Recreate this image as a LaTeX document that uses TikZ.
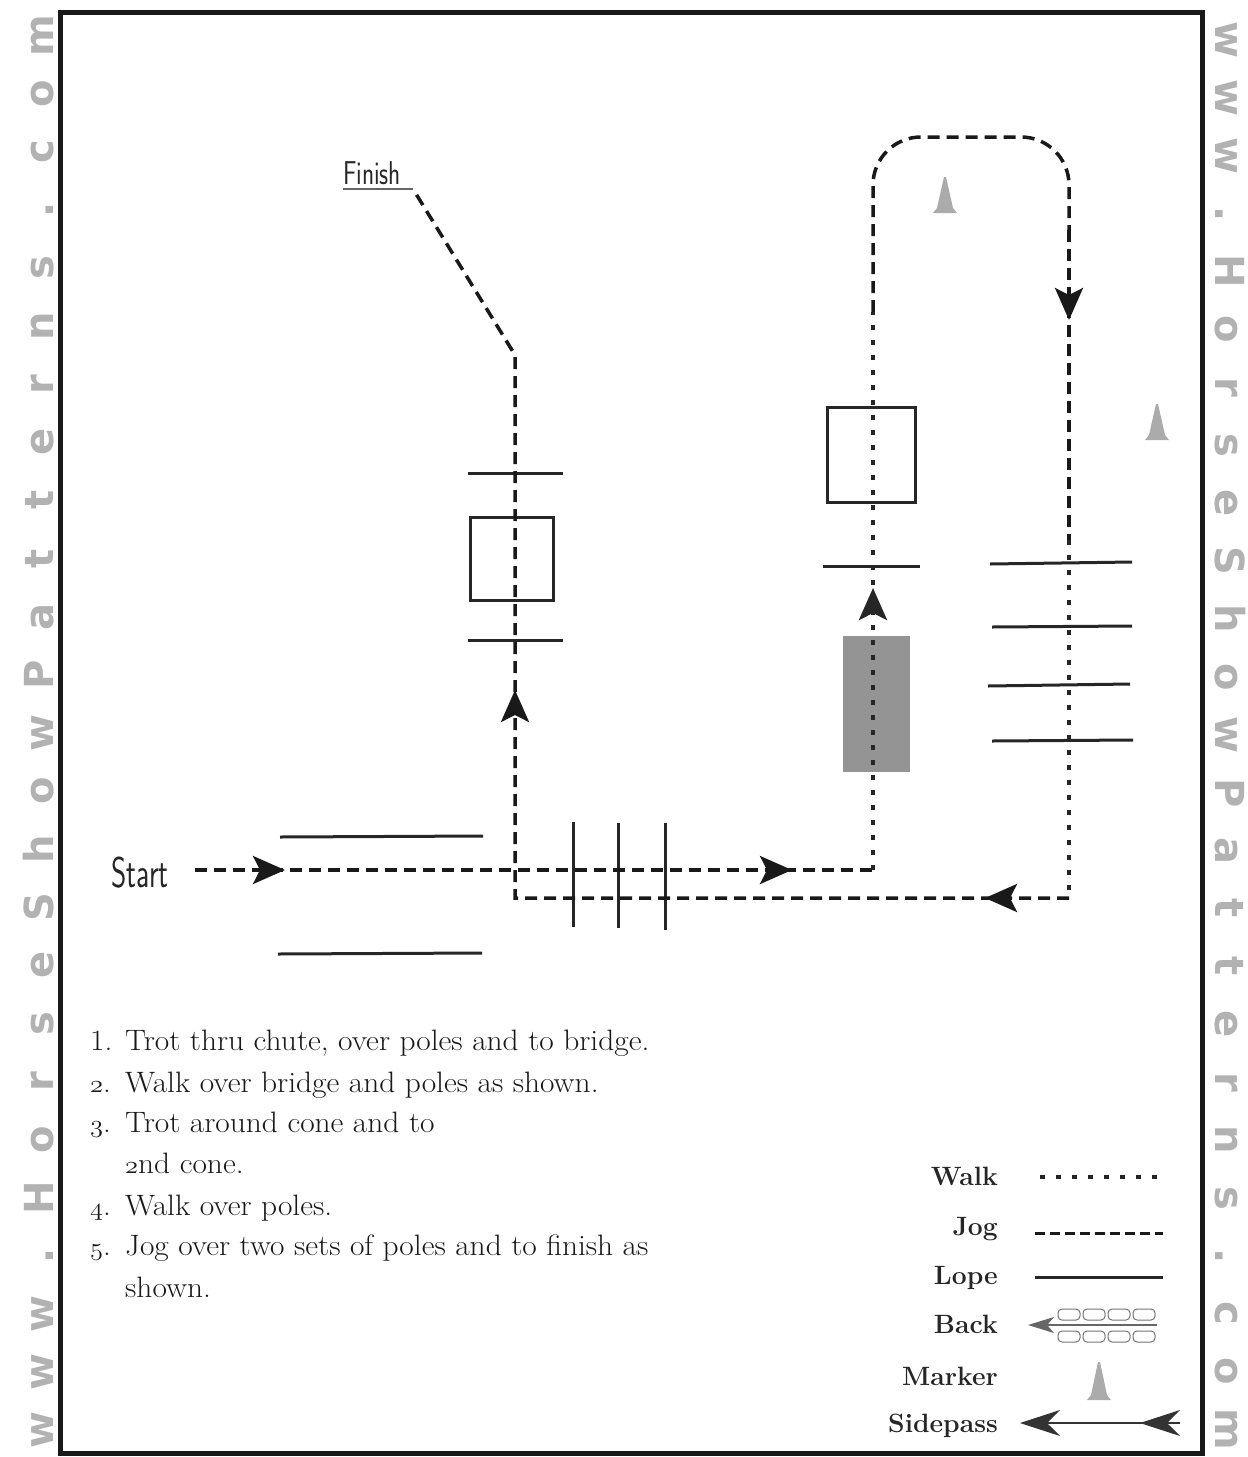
\documentclass[tikz,border=0pt]{standalone}
\usepackage{fontspec}
\newfontfamily\wmfont{DejaVu Sans}
\usetikzlibrary{arrows.meta,decorations.markings}
\newcommand{\osn}[1]{{\usefont{OML}{lmm}{m}{it}#1}}
\begin{document}
\begin{tikzpicture}[x=1pt,y=-1pt,
  jog/.style={line width=3.5pt,dash pattern=on 12pt off 7pt,black!90},
  walk/.style={line width=4.5pt,dash pattern=on 5pt off 10pt,black!85},
  pole/.style={line width=3pt,black!85},
  obox/.style={draw,line width=3pt,black!85},
  arr/.style={postaction={decorate,decoration={markings,mark=at position #1 with {\pgfsetdash{}{0pt}\arrow{Stealth[length=32pt,width=28pt,inset=7pt]}}}}},
  conefill/.style={fill=black!33},
  wm/.style={font=\wmfont\bfseries\fontsize{40}{40}\selectfont,text=black!30,inner sep=0pt},
  instr/.style={font=\fontsize{29.5}{34}\selectfont,text=black!90,inner sep=0pt,anchor=base west,xscale=1.065},
  leg/.style={font=\bfseries\fontsize{26.5}{30}\selectfont,text=black!85,inner sep=0pt,anchor=base east},
  cond/.style={font=\sffamily\fontsize{#1}{#1}\selectfont,text=black!85,inner sep=0pt}
]
\useasboundingbox (0,0) rectangle (1248,1457);
% frame
\draw[line width=5pt,black!90] (60,12) rectangle (1202,1453);
% watermarks
\foreach \ch [count=\i from 0] in {w,w,w,.,H,o,r,s,e,S,h,o,w,P,a,t,t,e,r,n,s,.,c,o,m}{
  \node[wm,rotate=90,anchor=base] (wl\i) at (53,1430-58.1*\i) {\ch};
  \node[wm,rotate=-90,anchor=base] (wr\i) at (1215,40+57.9*\i) {\ch};
}
% obstacles
\fill[black!42] (843,636) rectangle (910,772);
\draw[pole] (280,837) -- (483,836);
\draw[pole] (278,954) -- (482,953);
\draw[pole] (573,822) -- (573,927);
\draw[pole] (618,823) -- (618,928);
\draw[pole] (665,823) -- (665,930);
\draw[pole] (468,473) -- (563,473);
\draw[pole] (468,640) -- (563,640);
\draw[obox] (470,517) rectangle (553,600);
\draw[pole] (823,566) -- (920,566);
\draw[obox] (827,407) rectangle (915,502);
\draw[pole] (990,564) -- (1132,562);
\draw[pole] (992,627) -- (1132,626);
\draw[pole] (988,686) -- (1130,684);
\draw[pole] (992,741) -- (1133,740);
% cones
\fill[conefill] (945,213) ++(-12,0) -- ++(4,-5) -- ++(7,-31) -- ++(2,0) -- ++(7,31) -- ++(4,5) -- cycle;
\fill[conefill] (1157,440) ++(-12,0) -- ++(4,-5) -- ++(7,-31) -- ++(2,0) -- ++(7,31) -- ++(4,5) -- cycle;
% labels
\node[cond=43,xscale=0.68] (start) at (140,873) {Start};
\node[cond=33,xscale=0.76,anchor=base west] (finish) at (343,184) {Finish};
\draw[line width=2pt,black!60] (finish.base west) ++(0,5) -- ++(70,0) coordinate (fin);
% route
\coordinate (s0) at (195,870);
\coordinate (c1) at (873,870);
\coordinate (c2) at (873,312);
\coordinate (c3) at (1069,230);
\coordinate (c4) at (1069,540);
\coordinate (c5) at (1069,898);
\coordinate (c6) at (515,898);
\coordinate (c7) at (515,355);
\draw[jog,arr=90pt,arr=597pt] (s0) -- (c1);
\draw[walk,arr=282pt] (c1) -- (c2);
\draw[jog,rounded corners=48pt] (c2) -- (873,137) -- (1069,137) -- (c3);
\draw[jog,arr=90pt] (c3) -- (c4);
\draw[walk] (c4) -- (c5);
\draw[jog,arr=84pt,arr=762pt] (c5) -- (c6) -- (c7) -- (fin);
% instructions
\node[instr] (n1) at (90,1050) {1.};
\node[instr] (t1) at (125,1050) {Trot thru chute, over poles and to bridge.};
\node[instr] (n2) at (90,1092) {\osn{2}.};
\node[instr] (t2) at (125,1092) {Walk over bridge and poles as shown.};
\node[instr] (n3) at (90,1132) {\osn{3}.};
\node[instr] (t3) at (125,1132) {Trot around cone and to};
\node[instr] (t3b) at (125,1173) {\osn{2}nd cone.};
\node[instr] (n4) at (90,1215) {\osn{4}.};
\node[instr] (t4) at (125,1215) {Walk over poles.};
\node[instr] (n5) at (90,1255) {\osn{5}.};
\node[instr] (t5) at (125,1255) {Jog over two sets of poles and to finish as};
\node[instr] (t5b) at (125,1297) {shown.};
% legend
\node[leg] (lw) at (998,1185) {Walk};
\node[leg] (lj) at (998,1235) {Jog};
\node[leg] (ll) at (998,1284) {Lope};
\node[leg] (lb) at (998,1333) {Back};
\node[leg] (lm) at (998,1385) {Marker};
\node[leg] (ls) at (998,1432) {Sidepass};
\draw[walk,line width=4pt,dash pattern=on 5pt off 11pt] (1040,1177) -- (1167,1177);
\draw[jog,line width=3pt,dash pattern=on 10pt off 5pt] (1035,1233) -- (1163,1233);
\draw[pole] (1035,1277) -- (1163,1277);
\foreach \k in {0,1,2,3}{
  \draw[black!55,line width=1pt,rounded corners=4pt] (1058+25*\k,1309) rectangle (1080+25*\k,1320);
  \draw[black!55,line width=1pt,rounded corners=4pt] (1058+25*\k,1331) rectangle (1080+25*\k,1342);
}
\draw[black!60,line width=1.5pt,-{Stealth[length=26pt,width=16pt,inset=7pt]}] (1157,1325) -- (1028,1325);
\fill[conefill] (1099,1400) ++(-12,0) -- ++(4,-5) -- ++(7,-33) -- ++(2,0) -- ++(7,33) -- ++(4,5) -- cycle;
\draw[black!80,line width=1.2pt,-{Stealth[length=40pt,width=26pt,inset=13pt]},
  postaction={decorate,decoration={markings,mark=at position 40pt with {\arrow{Stealth[length=40pt,width=26pt,inset=13pt]}}}}]
  (1180,1423) -- (1020,1423);
\end{tikzpicture}
\end{document}
